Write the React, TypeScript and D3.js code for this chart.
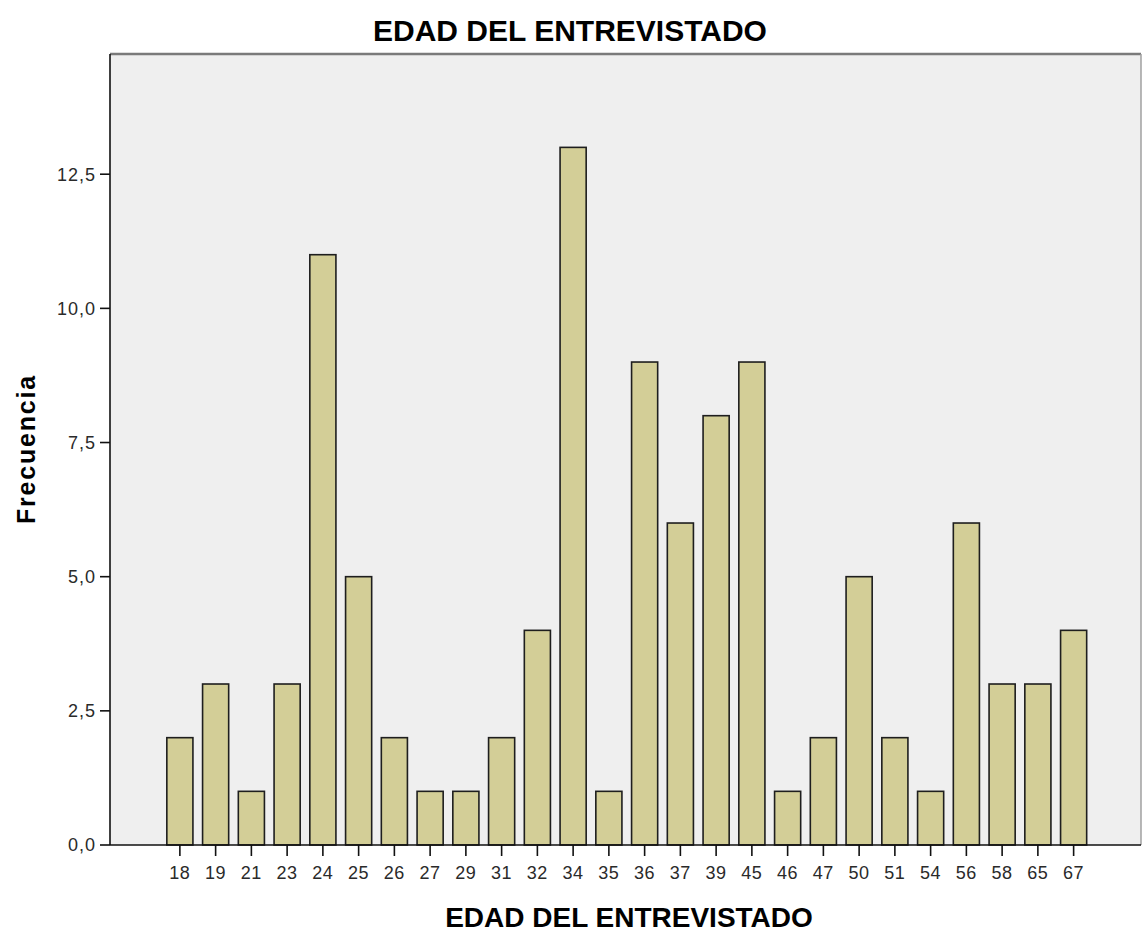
import React from 'react';
import * as d3 from 'd3';

const ages = ['18', '19', '21', '23', '24', '25', '26', '27', '29', '31', '32', '34', '35', '36', '37', '39', '45', '46', '47', '50', '51', '54', '56', '58', '65', '67'];
const counts = [2, 3, 1, 3, 11, 5, 2, 1, 1, 2, 4, 13, 1, 9, 6, 8, 9, 1, 2, 5, 2, 1, 6, 3, 3, 4];
const yTicks = [0, 2.5, 5, 7.5, 10, 12.5];

const width = 1142;
const height = 934;
const plot = { left: 110, top: 54, right: 1141, bottom: 845 };

const App: React.FC = () => {
  const x = d3.scaleBand<string>()
    .domain(ages)
    .range([162, 1091.5])
    .paddingInner(0.27)
    .paddingOuter(0.135);

  const y = d3.scaleLinear()
    .domain([0, 14.74])
    .range([plot.bottom, plot.top]);

  const fmt = (v: number) => v.toFixed(1).replace('.', ',');
  const font = 'Liberation Sans, Arial, sans-serif';

  return (
    <div style={{ position: 'absolute', left: 0, top: 0 }}>
      <svg width={width} height={height} style={{ display: 'block', background: '#fff' }}>
        <rect x={plot.left} y={plot.top} width={plot.right - plot.left} height={plot.bottom - plot.top} fill="#efefef" />
        {/* frame: grey top/right, black left axis */}
        <line x1={plot.left} x2={plot.right} y1={plot.top} y2={plot.top} stroke="#7a7a7a" strokeWidth={2.5} />
        <line x1={plot.right} x2={plot.right} y1={plot.top} y2={plot.bottom} stroke="#a0a0a0" strokeWidth={1.5} />

        {ages.map((a, i) => (
          <rect
            key={a}
            x={x(a)}
            y={y(counts[i])}
            width={x.bandwidth()}
            height={y(0) - y(counts[i])}
            fill="#d3ce97"
            stroke="#1e1e1e"
            strokeWidth={1.6}
          />
        ))}

        <line x1={plot.left} x2={plot.left} y1={plot.top} y2={plot.bottom} stroke="#111" strokeWidth={1.6} />
        <line x1={plot.left} x2={plot.right} y1={plot.bottom} y2={plot.bottom} stroke="#111" strokeWidth={1.6} />

        {yTicks.map(t => (
          <g key={t} transform={`translate(0,${y(t)})`}>
            <line x1={plot.left - 10} x2={plot.left} stroke="#111" strokeWidth={1.6} />
            <text x={plot.left - 14} dy="0.36em" textAnchor="end" fontFamily={font} fontSize={18} letterSpacing={1} fill="#2a2a2a">{fmt(t)}</text>
          </g>
        ))}

        {ages.map(a => {
          const cx = (x(a) ?? 0) + x.bandwidth() / 2;
          return (
            <g key={a} transform={`translate(${cx},${plot.bottom})`}>
              <line y1={0} y2={11} stroke="#111" strokeWidth={1.6} />
              <text y={34} textAnchor="middle" fontFamily={font} fontSize={18} letterSpacing={0.5} fill="#2a2a2a">{a}</text>
            </g>
          );
        })}

        <text x={570} y={41} textAnchor="middle" fontFamily={font} fontSize={30} fontWeight="bold" fill="#000">EDAD DEL ENTREVISTADO</text>
        <text x={629} y={927} textAnchor="middle" fontFamily={font} fontSize={28} fontWeight="bold" fill="#000">EDAD DEL ENTREVISTADO</text>
        <text transform={`translate(35,449) rotate(-90)`} textAnchor="middle" fontFamily={font} fontSize={25} fontWeight="bold" letterSpacing={1.8} fill="#000">Frecuencia</text>
      </svg>
    </div>
  );
};

export default App;
